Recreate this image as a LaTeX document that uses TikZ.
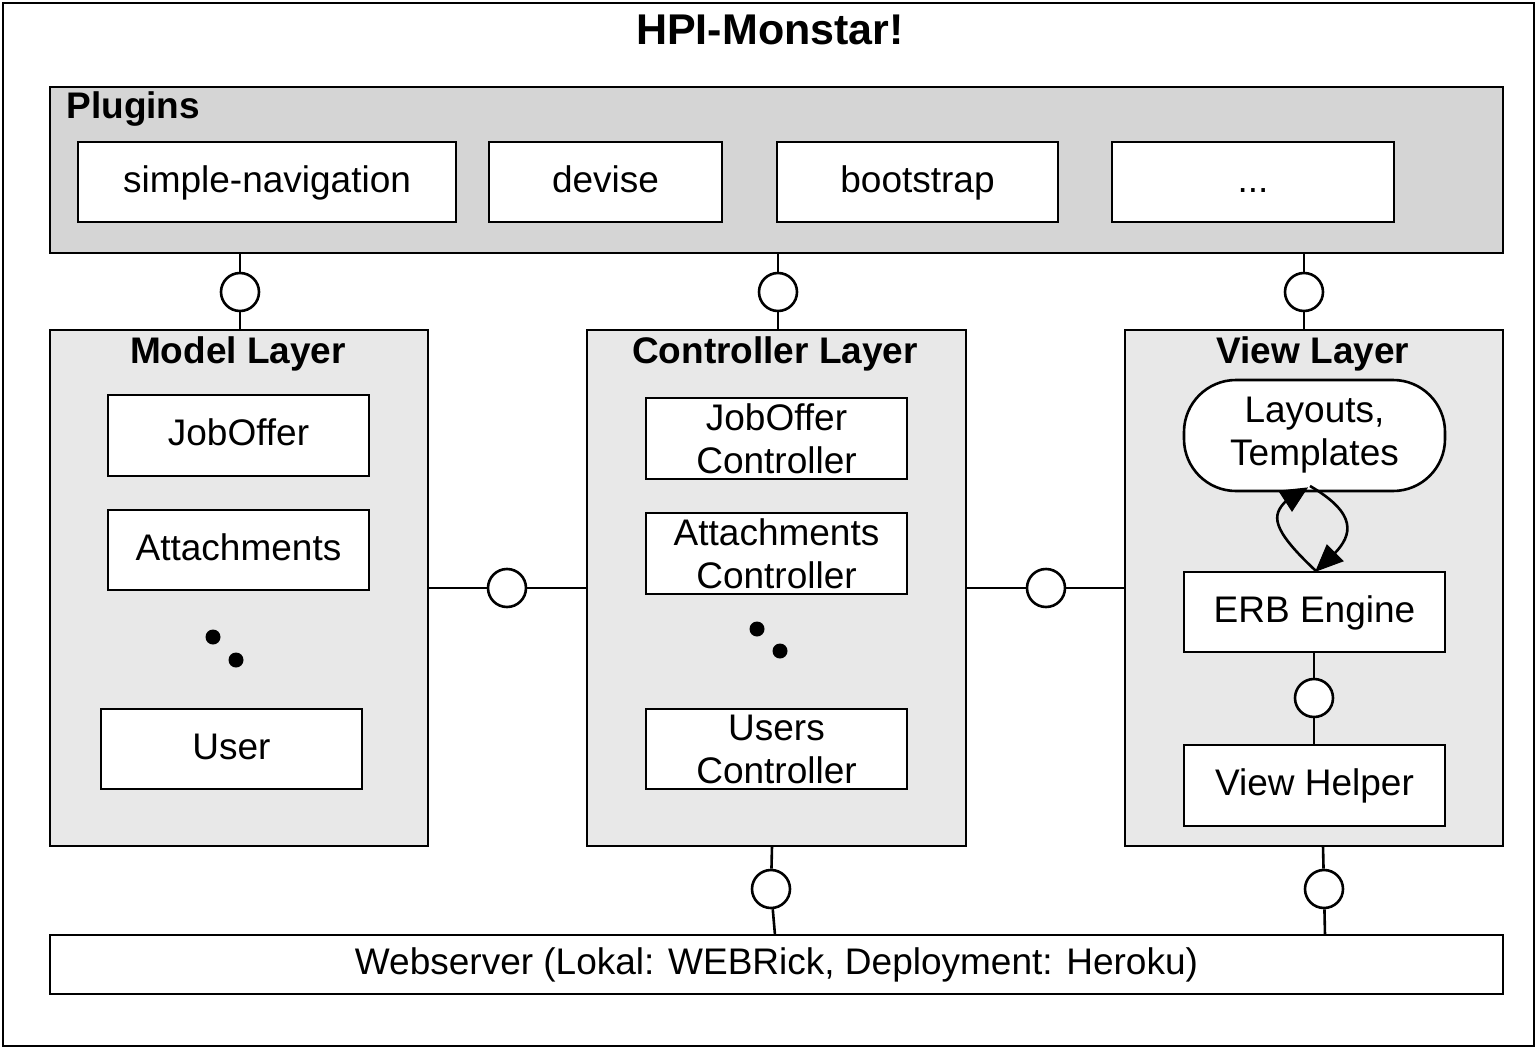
\documentclass[tikz,border=0pt]{standalone}
\usepackage{fontspec}
\setmainfont{Liberation Sans}
\usetikzlibrary{arrows.meta}
\definecolor{plugingray}{HTML}{D5D5D5}
\definecolor{layergray}{HTML}{E8E8E8}
\begin{document}
\begin{tikzpicture}[x=1pt,y=-1pt,
  every node/.style={font=\fontsize{37}{43}\selectfont},
  item/.style={draw, fill=white, line width=2.6pt, align=center, inner sep=0pt},
  one/.style={text height=27pt, text depth=7pt},
  layer/.style={draw, fill=layergray, line width=2.6pt, inner sep=0pt},
  lolli/.style={circle, draw, fill=white, minimum size=38pt, inner sep=0pt, line width=2.6pt},
  conn/.style={line width=2.6pt},
  ttl/.style={font=\fontsize{37}{43}\selectfont\bfseries},
  dotm/.style={circle, fill=black, minimum size=15pt, inner sep=0pt},
  loopline/.style={line width=2.6pt, line join=round},
  head/.style={fill=black, draw=black, line width=1pt, line join=miter}]
\useasboundingbox (0,0) rectangle (1537,1049);
\draw[line width=2.6pt, fill=white] (3,3) rectangle (1534,1046);
\node[font=\fontsize{43}{48}\selectfont\bfseries] (title) at (770,30) {HPI-Monstar!};
% plugins
\node[layer, fill=plugingray, minimum width=1453pt, minimum height=166pt] (plugins) at (776.5,170) {};
\node[ttl, anchor=base west] (plt) at (63,118) {Plugins};
\node[item, one, minimum width=378pt, minimum height=80pt] (sn) at (267,182) {simple-navigation};
\node[item, one, minimum width=233pt, minimum height=80pt] (dev) at (605.5,182) {devise};
\node[item, one, minimum width=281pt, minimum height=80pt] (boot) at (917.5,182) {bootstrap};
\node[item, one, minimum width=282pt, minimum height=80pt] (more) at (1253,182) {...};
% layers
\node[layer, minimum width=378pt, minimum height=516pt] (model) at (239,588) {};
\node[layer, minimum width=379pt, minimum height=516pt] (ctrl) at (776.5,588) {};
\node[layer, minimum width=378pt, minimum height=516pt] (view) at (1314,588) {};
\node[ttl, anchor=base] (mt) at (238,363) {Model Layer};
\node[ttl, anchor=base] (ct) at (775,363) {Controller Layer};
\node[ttl, anchor=base] (vt) at (1313,363) {View Layer};
% model items
\node[item, one, minimum width=261pt, minimum height=81pt] (jo) at (238.5,435.5) {JobOffer};
\node[item, one, minimum width=261pt, minimum height=80pt] (att) at (238.5,550) {Attachments};
\node[dotm] (md1) at (213,637) {};
\node[dotm] (md2) at (236,660) {};
\node[item, one, minimum width=261pt, minimum height=80pt] (user) at (231.5,749) {User};
% controller items
\node[item, minimum width=261pt, minimum height=81pt] (joc) at (776.5,438.5) {JobOffer\\Controller};
\node[item, minimum width=261pt, minimum height=81pt] (attc) at (776.5,553.5) {Attachments\\Controller};
\node[dotm] (cd1) at (757,629) {};
\node[dotm] (cd2) at (780,651) {};
\node[item, minimum width=261pt, minimum height=80pt] (usc) at (776.5,749) {Users\\Controller};
% view items
\node[item, rounded corners=52pt, minimum width=261pt, minimum height=111pt] (lay) at (1314.5,435.5) {Layouts,\\Templates};
\node[item, one, minimum width=261pt, minimum height=80pt] (erb) at (1314.5,612) {ERB Engine};
\node[item, one, minimum width=261pt, minimum height=81pt] (vh) at (1314.5,785.5) {View Helper};
% webserver
\node[item, one, minimum width=1453pt, minimum height=59pt] (web) at (776.5,964.5) {Webserver (Lokal: WEBRick, Deployment: Heroku)};
% lollipops
\node[lolli] (l1) at (240,292) {};
\node[lolli] (l2) at (778,292) {};
\node[lolli] (l3) at (1304,292) {};
\node[lolli] (h1) at (507,588) {};
\node[lolli] (h2) at (1046,588) {};
\node[lolli] (v1) at (1314,698) {};
\node[lolli] (b1) at (771,889) {};
\node[lolli] (b2) at (1324,889) {};
\draw[conn] (plugins.south -| l1) -- (l1);
\draw[conn] (l1) -- (model.north -| l1);
\draw[conn] (plugins.south -| l2) -- (l2);
\draw[conn] (l2) -- (ctrl.north -| l2);
\draw[conn] (plugins.south -| l3) -- (l3);
\draw[conn] (l3) -- (view.north -| l3);
\draw[conn] (model.east |- h1) -- (h1);
\draw[conn] (h1) -- (ctrl.west |- h1);
\draw[conn] (ctrl.east |- h2) -- (h2);
\draw[conn] (h2) -- (view.west |- h2);
\draw[conn] (erb.south -| v1) -- (v1);
\draw[conn] (v1) -- (vh.north -| v1);
\coordinate (b1t) at (772,846);
\coordinate (b1b) at (775,935);
\coordinate (b2t) at (1323,846);
\coordinate (b2b) at (1325,935);
\draw[conn] (b1t) -- (b1);
\draw[conn] (b1) -- (b1b);
\draw[conn] (b2t) -- (b2);
\draw[conn] (b2) -- (b2b);
% loop arrows between lay and erb
\coordinate (lbl) at (1307,488);
\coordinate (lbr) at (1310,486);
\coordinate (et) at (1316,571);
\coordinate (la1) at (1292,511);
\coordinate (la2) at (1279,491);
\coordinate (lab) at (1286,501);
\coordinate (ra1) at (1343,561);
\coordinate (ra2) at (1327,545);
\coordinate (rab) at (1335,553);
\draw[loopline] (et) .. controls (1270,528) and (1272,515) .. (lab);
\draw[head] (lbl) -- (la1) -- (la2) -- cycle;
\draw[loopline] (lbr) .. controls (1358,514) and (1352,535) .. (rab);
\draw[head] (et) -- (ra1) -- (ra2) -- cycle;
\end{tikzpicture}
\end{document}
